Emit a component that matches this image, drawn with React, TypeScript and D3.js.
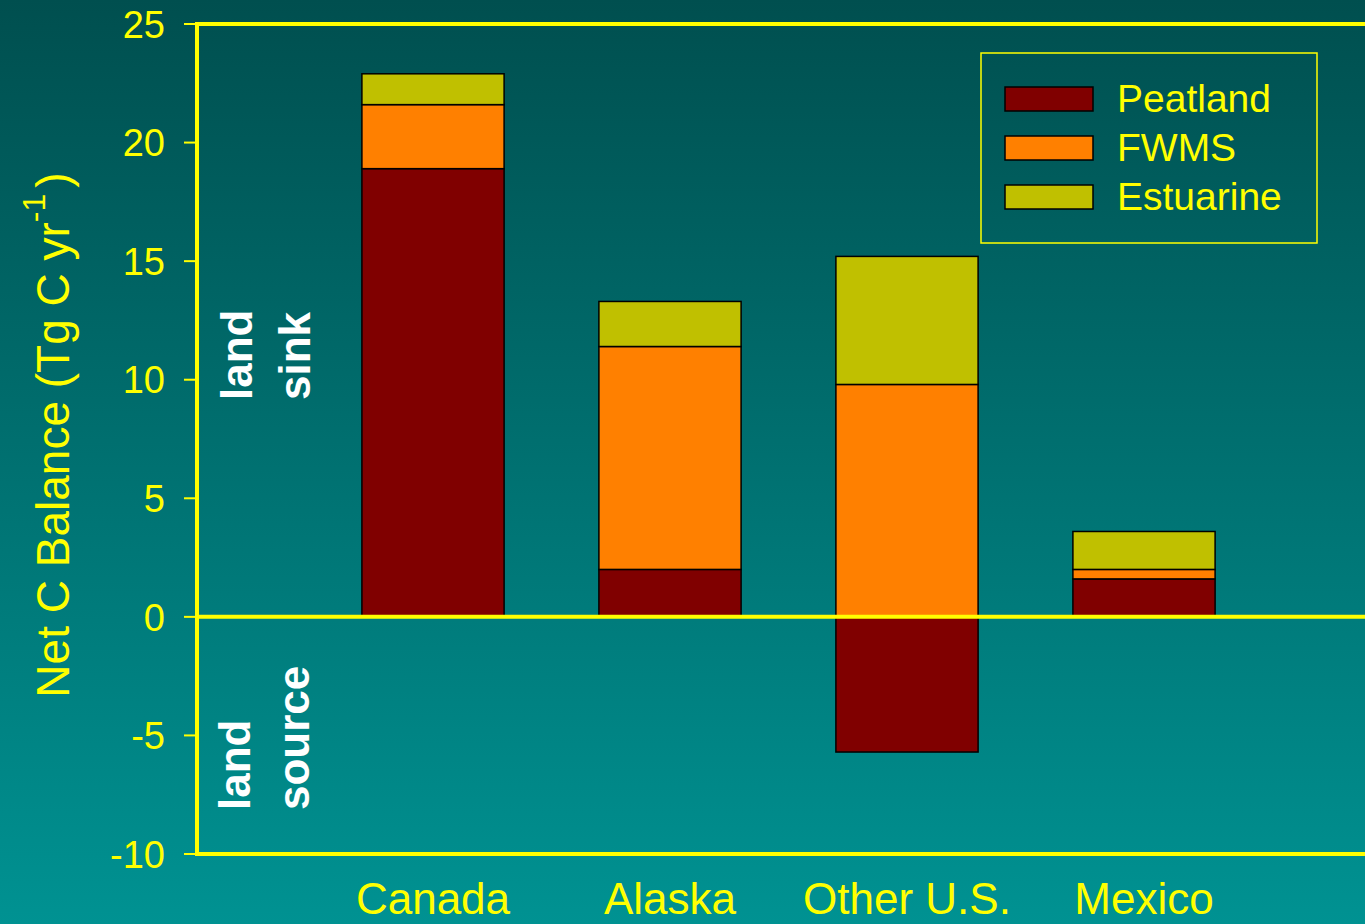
import React from "react";
import * as d3 from "d3";

const categories = ["Canada", "Alaska", "Other U.S.", "Mexico"];
const seriesNames = ["Peatland", "FWMS", "Estuarine"];
const peatland = [18.9, 2.0, -5.7, 1.6];
const fwms = [2.7, 9.4, 9.8, 0.4];
const estuarine = [1.3, 1.9, 5.4, 1.6];
const yTicks = [-10, -5, 0, 5, 10, 15, 20, 25];
const colors = ["#800000", "#ff8000", "#c0c000"];

const W = 1365;
const H = 924;
const FONT = "'Liberation Sans', Arial, Helvetica, sans-serif";
const YEL = "#ffff00";

export default function App() {
  const rows = categories.map((c, i) => ({
    cat: c,
    Peatland: peatland[i],
    FWMS: fwms[i],
    Estuarine: estuarine[i],
  }));
  const stack = d3
    .stack<any>()
    .keys(seriesNames)
    .offset(d3.stackOffsetDiverging);
  const layers = stack(rows);

  const y = d3.scaleLinear().domain([-10, 25]).range([854, 24]);
  const x = d3
    .scaleBand<string>()
    .domain(categories)
    .range([314.5, 1262.5])
    .paddingInner(0.4)
    .paddingOuter(0.2);

  const left = 197;
  const top = y(25);
  const bottom = y(-10);

  return (
    <svg
      width={W}
      height={H}
      style={{ position: "absolute", left: 0, top: 0, display: "block" }}
      fontFamily={FONT}
    >
      <defs>
        <linearGradient id="bg" x1="0" y1="0" x2="0" y2="1">
          <stop offset="0%" stopColor="#004f4f" />
          <stop offset="100%" stopColor="#009292" />
        </linearGradient>
      </defs>
      <rect x={0} y={0} width={W} height={H} fill="url(#bg)" />

      {/* bars */}
      {layers.map((layer, li) =>
        layer.map((d, i) => {
          const y0 = y(d[0]);
          const y1 = y(d[1]);
          return (
            <rect
              key={`${li}-${i}`}
              x={x(categories[i])}
              y={Math.min(y0, y1)}
              width={x.bandwidth()}
              height={Math.abs(y0 - y1)}
              fill={colors[li]}
              stroke="#000"
              strokeWidth={1.5}
            />
          );
        })
      )}

      {/* frame */}
      <line x1={left} x2={W + 10} y1={top} y2={top} stroke={YEL} strokeWidth={4} />
      <line x1={left} x2={W + 10} y1={bottom} y2={bottom} stroke={YEL} strokeWidth={4} />
      <line x1={left} x2={left} y1={top - 2} y2={bottom + 2} stroke={YEL} strokeWidth={4} />
      <line x1={left} x2={W + 10} y1={y(0)} y2={y(0)} stroke={YEL} strokeWidth={4} />

      {/* y ticks */}
      {yTicks.map((t) => (
        <g key={t}>
          <line x1={184} x2={left} y1={y(t)} y2={y(t)} stroke={YEL} strokeWidth={2} />
          <text
            x={165}
            y={y(t)}
            dy="0.36em"
            textAnchor="end"
            fill={YEL}
            fontSize={38}
          >
            {t}
          </text>
        </g>
      ))}

      {/* y title */}
      <text
        transform={`translate(69,435) rotate(-90)`}
        textAnchor="middle"
        fill={YEL}
        fontSize={46}
      >
        Net C Balance (Tg C yr
        <tspan fontSize={32} dy={-24}>-1</tspan>
        <tspan dy={24} dx={6}>)</tspan>
      </text>

      {/* category labels */}
      {categories.map((c) => (
        <text
          key={c}
          x={(x(c) as number) + x.bandwidth() / 2}
          y={914}
          textAnchor="middle"
          fill={YEL}
          fontSize={44}
        >
          {c}
        </text>
      ))}

      {/* land sink / source */}
      <g fill="#ffffff" fontWeight="bold" fontSize={44}>
        <text transform="translate(252,400) rotate(-90)">land</text>
        <text transform="translate(310,400) rotate(-90)">sink</text>
        <text transform="translate(250,810) rotate(-90)">land</text>
        <text transform="translate(309,810) rotate(-90)">source</text>
      </g>

      {/* legend */}
      <rect x={981} y={53} width={336} height={190} fill="none" stroke={YEL} strokeWidth={1.5} />
      {seriesNames.map((s, i) => (
        <g key={s}>
          <rect
            x={1005}
            y={87 + i * 49}
            width={88}
            height={24}
            fill={colors[i]}
            stroke="#000"
            strokeWidth={1.5}
          />
          <text x={1117} y={112 + i * 49} fill={YEL} fontSize={39}>
            {s}
          </text>
        </g>
      ))}
    </svg>
  );
}
